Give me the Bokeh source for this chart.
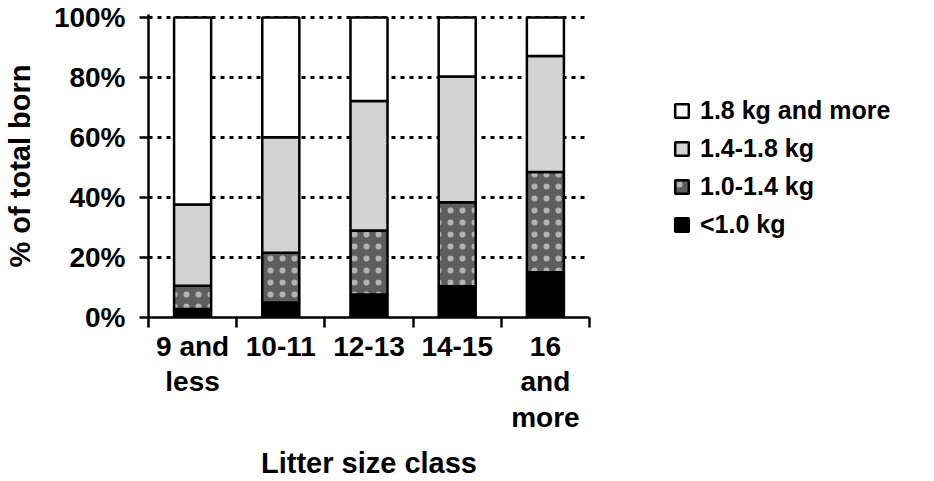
from bokeh.plotting import figure
from bokeh.models import Range1d, FixedTicker, Legend, LegendItem, ColumnDataSource
from bokeh.embed import file_html
from bokeh.resources import INLINE

categories = ["9 and\nless", "10-11", "12-13", "14-15", "16\nand\nmore"]
series_names = ["<1.0 kg", "1.0-1.4 kg", "1.4-1.8 kg", "1.8 kg and more"]
under_1_0 = [2.8, 5.0, 7.7, 10.4, 15.1]
from_1_0_to_1_4 = [7.8, 16.6, 21.3, 28.0, 33.4]
from_1_4_to_1_8 = [27.1, 38.5, 43.2, 41.9, 38.7]
over_1_8 = [62.3, 39.9, 27.8, 19.7, 12.8]
y_ticks = [0, 20, 40, 60, 80, 100]
y_tick_labels = ["0%", "20%", "40%", "60%", "80%", "100%"]

FONT = "Liberation Sans"
series = [under_1_0, from_1_0_to_1_4, from_1_4_to_1_8, over_1_8]
styles = [
    dict(fill_color="#000000"),
    dict(fill_color="#5e5e5e", hatch_pattern="dot", hatch_color="#b4b4b4", hatch_scale=12, hatch_weight=3),
    dict(fill_color="#d3d3d3"),
    dict(fill_color="#ffffff"),
]

n = len(categories)
centers = [i + 0.5 for i in range(n)]
bounds = list(range(n + 1))

p = figure(width=910, height=478, output_backend="svg", toolbar_location=None,
           x_range=Range1d(0, n), y_range=Range1d(0, 101),
           min_border_left=147, min_border_top=14, min_border_bottom=161, min_border_right=322)
p.frame_width = 441
p.frame_height = 303
p.outline_line_color = None
p.background_fill_color = "white"
p.border_fill_color = "white"

renderers = []
bottoms = [0.0] * n
for name, vals, st in zip(series_names, series, styles):
    tops = [b + v for b, v in zip(bottoms, vals)]
    src = ColumnDataSource(dict(x=centers, bottom=list(bottoms), top=tops))
    r = p.vbar(x="x", bottom="bottom", top="top", width=0.42, source=src,
               line_color="black", line_width=2.5, **st)
    renderers.append((name, r))
    bottoms = tops

# grid
p.xgrid.visible = False
p.ygrid.ticker = FixedTicker(ticks=y_ticks[1:])
p.ygrid.grid_line_color = "black"
p.ygrid.grid_line_width = 3
p.ygrid.grid_line_dash = "4 5"
p.ygrid.level = "underlay"

# y axis
p.yaxis.ticker = FixedTicker(ticks=y_ticks)
p.yaxis.major_label_overrides = {t: l for t, l in zip(y_ticks, y_tick_labels)}
p.yaxis.major_tick_out = 9
p.yaxis.major_tick_in = 0
p.yaxis.minor_tick_line_color = None
p.yaxis.axis_line_width = 2.5
p.yaxis.major_tick_line_width = 2.5
p.yaxis.major_label_standoff = 14
p.yaxis.major_label_text_font = FONT
p.yaxis.major_label_text_font_style = "bold"
p.yaxis.major_label_text_font_size = "28px"
p.yaxis.major_label_text_color = "black"
p.yaxis.axis_label = "% of total born"
p.yaxis.axis_label_text_font = FONT
p.yaxis.axis_label_text_font_style = "bold"
p.yaxis.axis_label_text_font_size = "29px"
p.yaxis.axis_label_text_color = "black"
p.yaxis.axis_label_standoff = 15

# x axis
p.xaxis.ticker = FixedTicker(ticks=centers, minor_ticks=bounds)
p.xaxis.major_label_overrides = {c: l for c, l in zip(centers, categories)}
p.xaxis.major_tick_out = 0
p.xaxis.major_tick_in = 0
p.xaxis.minor_tick_out = 10
p.xaxis.minor_tick_in = 0
p.xaxis.minor_tick_line_width = 2.5
p.xaxis.minor_tick_line_color = "black"
p.xaxis.axis_line_width = 2.5
p.xaxis.major_label_standoff = 3
p.xaxis.major_label_text_font = FONT
p.xaxis.major_label_text_font_style = "bold"
p.xaxis.major_label_text_font_size = "28px"
p.xaxis.major_label_text_color = "black"
p.xaxis.major_label_text_line_height = 1.15
p.xaxis.axis_label = "Litter size class"
p.xaxis.axis_label_text_font = FONT
p.xaxis.axis_label_text_font_style = "bold"
p.xaxis.axis_label_text_font_size = "29px"
p.xaxis.axis_label_text_color = "black"
p.xaxis.axis_label_standoff = 11

items = [LegendItem(label=name, renderers=[r]) for name, r in reversed(renderers)]
legend = Legend(items=items, location=(84, 78), margin=0, padding=0,
                glyph_width=17, glyph_height=17, label_height=28, spacing=9,
                label_standoff=10, border_line_color=None, background_fill_alpha=0,
                label_text_font=FONT, label_text_font_style="bold",
                label_text_font_size="25px", label_text_color="black")
p.add_layout(legend, "right")

open("out.html", "w").write(file_html(p, INLINE))
